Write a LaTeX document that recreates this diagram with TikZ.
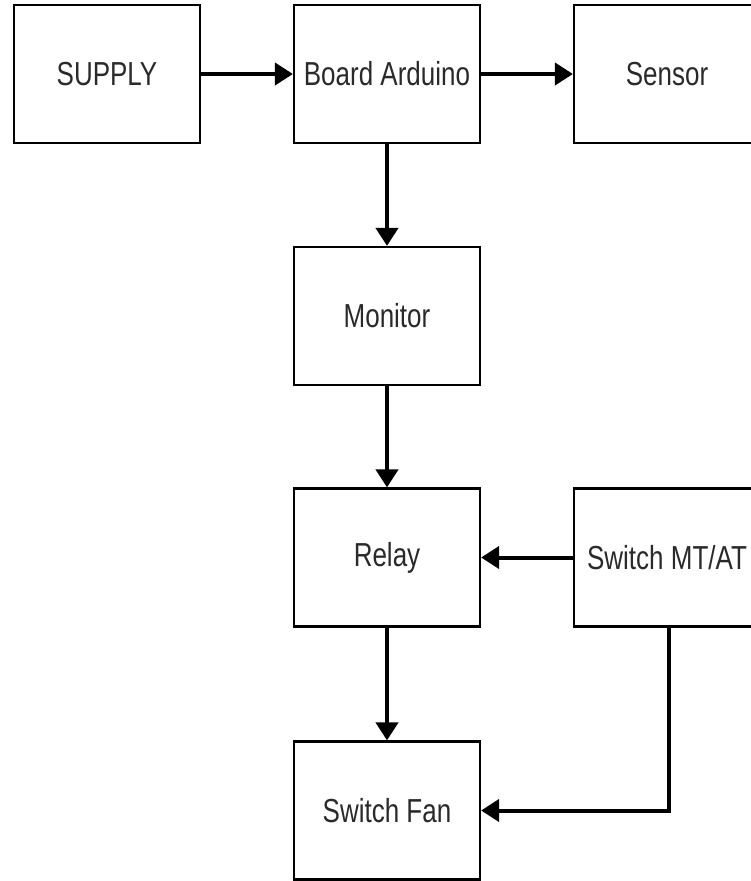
\documentclass[tikz,border=0pt]{standalone}
\usepackage{fontspec}
\setmainfont{Liberation Sans}
\usetikzlibrary{arrows.meta}
\definecolor{labelgray}{HTML}{2A2A2A}
\newcommand{\tallText}[1]{\scalebox{1}[1.28]{#1}}
\begin{document}
\begin{tikzpicture}[x=1pt,y=1pt,
  blockbox/.style={draw=black, line width=2.2pt, minimum width=186pt, minimum height=138pt,
    inner sep=0pt, text=labelgray, font=\fontsize{26}{30}\selectfont},
  flow/.style={line width=4pt, -{Triangle[length=18pt,width=22pt]}}]
  \useasboundingbox (0,0) rectangle (751,-881);
  % blocks
  \node[blockbox] (supply) at (107,-74)  {\tallText{SUPPLY}};
  \node[blockbox] (board)  at (387,-74)  {\tallText{Board Arduino}};
  \node[blockbox] (sensor) at (667,-74)  {\tallText{Sensor}};
  \node[blockbox] (monitor) at (387,-316) {\tallText{Monitor}};
  \node[blockbox] (relay)  at (387,-557.5) {\tallText{Relay}};
  \node[blockbox] (switch) at (667,-557.5) {\tallText{Switch MT/AT}};
  \node[blockbox] (fan)    at (387,-810.5) {\tallText{Switch Fan}};
  % connections
  \draw[flow] (supply.east) -- (board.west);
  \draw[flow] (board.east) -- (sensor.west);
  \draw[flow] (board.south) -- (monitor.north);
  \draw[flow] (monitor.south) -- (relay.north);
  \draw[flow] (switch.west) -- (relay.east);
  \draw[flow] (relay.south) -- (fan.north);
  \coordinate (bend) at (669,-810.5);
  \draw[flow] (switch.south -| bend) -- (bend) -- (fan.east);
\end{tikzpicture}
\end{document}
